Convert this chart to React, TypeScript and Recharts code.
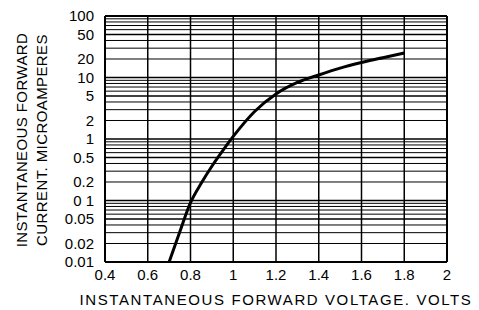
import React from 'react';
import { LineChart, Line, XAxis, YAxis, ReferenceLine, Label } from 'recharts';

// forward voltage (V) vs instantaneous forward current (uA)
const voltage = [0.7, 0.75, 0.8, 0.85, 0.9, 0.95, 1.0, 1.1, 1.2, 1.3, 1.4, 1.5, 1.6, 1.7, 1.8];
const current = [0.01, 0.031, 0.092, 0.19, 0.36, 0.64, 1.1, 2.8, 5.4, 8.3, 11, 14.2, 17.5, 21, 25];

const xTicks = [0.4, 0.6, 0.8, 1, 1.2, 1.4, 1.6, 1.8, 2];
const yTicks = [0.01, 0.02, 0.05, 0.1, 0.2, 0.5, 1, 2, 5, 10, 20, 50, 100];
const yTickText = ['0.01', '0.02', '0.05', '0 1', '0.2', '0.5', '1', '2', '5', '10', '20', '50', '100'];

// log paper: lines at every 1..9 step of each decade
const decades = [0.01, 0.1, 1, 10];
const steps = [1, 2, 3, 4, 5, 6, 7, 8, 9];

const data = voltage.map((v, i) => ({ v, i: current[i] }));

const font = 'Liberation Sans, Arial, sans-serif';

const App = () => {
  const hLines: { y: number; w: number }[] = [];
  decades.forEach(d =>
    steps.forEach(s => hLines.push({ y: +(d * s).toPrecision(3), w: s === 1 || s === 5 ? 1.5 : 1 }))
  );
  hLines.push({ y: 100, w: 2 });

  const yFmt = (val: number) => {
    const k = yTicks.findIndex(t => Math.abs(t - val) < val * 1e-6);
    return k >= 0 ? yTickText[k] : '';
  };

  return (
    <div style={{ position: 'absolute', left: 0, top: 0, background: '#fff' }}>
      <LineChart width={479} height={310} data={data} margin={{ top: 16, right: 32, bottom: 0, left: 0 }}>
        <XAxis
          dataKey="v"
          type="number"
          domain={[0.4, 2]}
          ticks={xTicks}
          interval={0}
          tickLine={false}
          axisLine={false}
          height={48}
          tick={{ fill: '#000', fontSize: 15, fontFamily: font }}
          tickMargin={1}
        >
          <Label
            value="INSTANTANEOUS FORWARD VOLTAGE. VOLTS"
            position="insideBottom"
            offset={5}
            style={{ fill: '#000', fontSize: 15, fontFamily: font, letterSpacing: 1.6 }}
          />
        </XAxis>
        <YAxis
          dataKey="i"
          scale="log"
          domain={[0.01, 100]}
          ticks={yTicks}
          interval={0}
          tickFormatter={yFmt}
          allowDataOverflow
          tickLine={false}
          axisLine={false}
          width={105}
          tickMargin={5}
          tick={{ fill: '#000', fontSize: 15, fontFamily: font }}
        />
        {hLines.map(h => (
          <ReferenceLine key={'h' + h.y} y={h.y} stroke="#000" strokeWidth={h.y === 0.01 ? 2 : h.w} />
        ))}
        {xTicks.map(x => (
          <ReferenceLine key={'v' + x} x={x} stroke="#000" strokeWidth={x === 0.4 || x === 2 ? 2 : 1.5} />
        ))}
        <Line
          dataKey="i"
          type="monotone"
          stroke="#000"
          strokeWidth={3}
          dot={false}
          isAnimationActive={false}
        />
      </LineChart>
      <svg width={60} height={290} style={{ position: 'absolute', left: 0, top: 0, pointerEvents: 'none' }}>
        <text
          transform="translate(27,140) rotate(-90)"
          textAnchor="middle"
          style={{ fill: '#000', fontSize: 15, fontFamily: font, letterSpacing: 0.4 }}
        >
          INSTANTANEOUS FORWARD
        </text>
        <text
          transform="translate(47,140) rotate(-90)"
          textAnchor="middle"
          style={{ fill: '#000', fontSize: 15, fontFamily: font, letterSpacing: 0.4 }}
        >
          CURRENT. MICROAMPERES
        </text>
      </svg>
    </div>
  );
};

export default App;
